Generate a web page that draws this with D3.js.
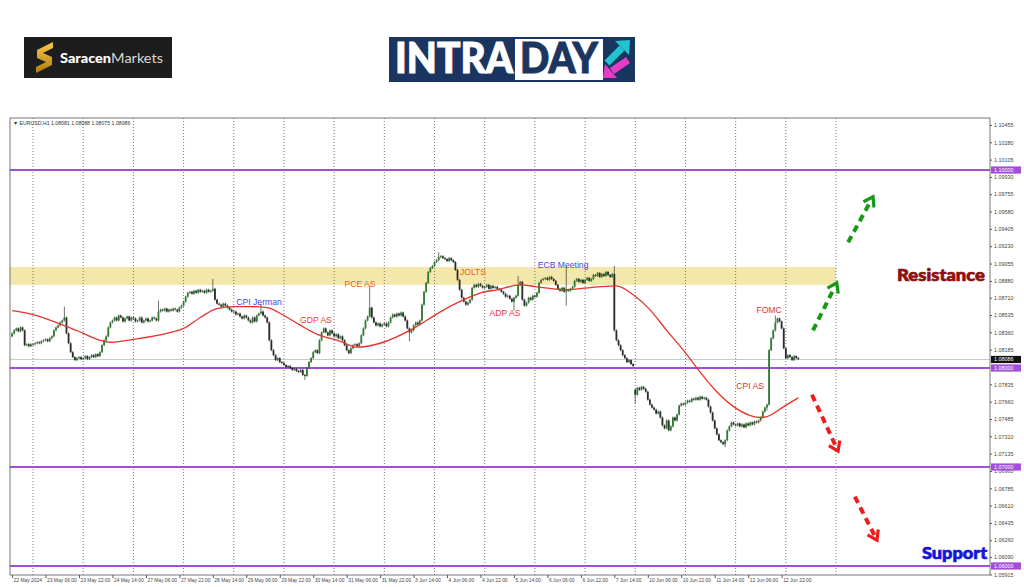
<!DOCTYPE html>
<html>
<head>
<meta charset="utf-8">
<script src="https://cdnjs.cloudflare.com/ajax/libs/d3/7.8.5/d3.min.js"></script>
<style>
	body{margin:0;background:#fff;}
	svg{display:block;font-family:"Liberation Sans",Arial,sans-serif;}
</style>
</head>
<body>
<div id="chart"></div>
<script>
// EURUSD H1 closes, one array per trading day (broker time)
const may22 = [1.0835,1.0838,1.0840,1.0837,1.0841,1.0838,1.0823,1.0824,1.0822,1.0824];
const may23 = [1.0824,1.0825,1.0826,1.0825,1.0827,1.0828,1.0829,1.0827,1.0830,1.0832,1.0838,1.0841,1.0843,1.0846,1.0848,1.0851,1.0835,1.0825,1.0816,1.0811,1.0808,1.0810,1.0811,1.0809];
const may24 = [1.0810,1.0812,1.0809,1.0811,1.0813,1.0811,1.0814,1.0812,1.0816,1.0823,1.0828,1.0832,1.0841,1.0846,1.0848,1.0851,1.0848,1.0853,1.0851,1.0847,1.0850,1.0852,1.0848,1.0851];
const may27 = [1.0850,1.0847,1.0848,1.0851,1.0846,1.0848,1.0850,1.0847,1.0848,1.0851,1.0850,1.0848,1.0857,1.0859,1.0858,1.0860,1.0857,1.0859,1.0858,1.0860,1.0859,1.0857,1.0861,1.0863];
const may28 = [1.0867,1.0872,1.0876,1.0877,1.0875,1.0878,1.0876,1.0879,1.0877,1.0878,1.0876,1.0879,1.0877,1.0878,1.0880,1.0869,1.0865,1.0864,1.0862,1.0865,1.0863,1.0861,1.0859,1.0857];
const may29 = [1.0857,1.0854,1.0855,1.0852,1.0850,1.0853,1.0851,1.0848,1.0846,1.0851,1.0847,1.0853,1.0855,1.0857,1.0853,1.0851,1.0846,1.0828,1.0818,1.0813,1.0808,1.0810,1.0806,1.0805];
const may30 = [1.0803,1.0801,1.0802,1.0800,1.0798,1.0799,1.0797,1.0796,1.0798,1.0793,1.0792,1.0800,1.0806,1.0810,1.0816,1.0818,1.0815,1.0828,1.0836,1.0840,1.0836,1.0833,1.0838,1.0835];
const may31 = [1.0832,1.0834,1.0830,1.0832,1.0828,1.0823,1.0818,1.0815,1.0820,1.0823,1.0824,1.0822,1.0825,1.0833,1.0840,1.0848,1.0852,1.0861,1.0851,1.0846,1.0843,1.0845,1.0842,1.0844];
const jun3 = [1.0845,1.0842,1.0846,1.0851,1.0854,1.0852,1.0855,1.0853,1.0856,1.0852,1.0848,1.0840,1.0836,1.0838,1.0843,1.0846,1.0844,1.0848,1.0864,1.0877,1.0886,1.0897,1.0901,1.0903];
const jun4 = [1.0907,1.0909,1.0912,1.0913,1.0911,1.0910,1.0908,1.0911,1.0909,1.0907,1.0899,1.0889,1.0879,1.0871,1.0867,1.0864,1.0866,1.0869,1.0881,1.0884,1.0882,1.0885,1.0883,1.0881];
const jun5 = [1.0882,1.0884,1.0880,1.0883,1.0881,1.0882,1.0880,1.0879,1.0877,1.0875,1.0872,1.0873,1.0870,1.0867,1.0871,1.0873,1.0884,1.0887,1.0869,1.0863,1.0866,1.0871,1.0869,1.0873];
const jun6 = [1.0872,1.0876,1.0886,1.0889,1.0890,1.0891,1.0889,1.0892,1.0890,1.0888,1.0884,1.0880,1.0878,1.0881,1.0877,1.0879,1.0878,1.0880,1.0882,1.0888,1.0890,1.0887,1.0889,1.0886];
const jun7 = [1.0889,1.0891,1.0888,1.0890,1.0894,1.0893,1.0896,1.0892,1.0895,1.0893,1.0897,1.0894,1.0892,1.0895,1.0838,1.0828,1.0823,1.0818,1.0813,1.0810,1.0806,1.0808,1.0804,1.0802];
const jun10 = [1.0773,1.0780,1.0778,1.0781,1.0779,1.0776,1.0768,1.0763,1.0760,1.0758,1.0754,1.0756,1.0750,1.0742,1.0739,1.0747,1.0737,1.0741,1.0750,1.0747,1.0753,1.0762,1.0764,1.0763];
const jun11 = [1.0765,1.0767,1.0766,1.0769,1.0768,1.0770,1.0768,1.0771,1.0769,1.0770,1.0768,1.0761,1.0755,1.0747,1.0739,1.0733,1.0727,1.0725,1.0723,1.0727,1.0737,1.0741,1.0745,1.0743];
const jun12 = [1.0742,1.0744,1.0741,1.0743,1.0740,1.0744,1.0742,1.0745,1.0743,1.0746,1.0745,1.0747,1.0750,1.0756,1.0760,1.0763,1.0818,1.0830,1.0838,1.0846,1.0850,1.0847,1.0840,1.0820];
const jun13 = [1.0810,1.0813,1.0811,1.0808,1.0812,1.0810,1.0809];

// bars whose open is not the previous close (first bar, weekend gap)
const sessionOpens = [[0, 1.0832], [298, 1.0778]];
// long wicks [bar, price]
const wickHighs = [[25,1.0861],[70,1.0867],[96,1.0889],[119,1.0864],[171,1.0882],[204,1.0916],[242,1.0892],[265,1.0902],[288,1.0902],[298,1.0778],[365,1.0852]];
const wickLows = [[140,1.0789],[190,1.0828],[240,1.0859],[265,1.0864],[298,1.0765],[341,1.0721],[361,1.0758]];

// moving average [bar, price]
const maPoints = [[0,1.0858],[10,1.0854],[26,1.0842],[34,1.0835],[42,1.0828],[47,1.0826],[58,1.0829],[74,1.0835],[82,1.0840],[90,1.0851],[98,1.0860],[106,1.0862],[114,1.0862],[122,1.0861],[130,1.0853],[138,1.0843],[146,1.0834],[157,1.0827],[165,1.0821],[176,1.0825],[192,1.0840],[205,1.0857],[216,1.0869],[224,1.0876],[232,1.0879],[243,1.0884],[251,1.0882],[264,1.0879],[280,1.0882],[289,1.0883],[297,1.0874],[305,1.0859],[313,1.0838],[321,1.0818],[329,1.0796],[337,1.0776],[345,1.0761],[353,1.0752],[358,1.0750],[361,1.0751],[369,1.0761],[376,1.0770]];

const supportResistance = [1.10000, 1.08000, 1.07000, 1.06000];
const bidPrice = 1.08086;
const resistanceZone = [1.0884, 1.0902];

const yTicks = [1.10455,1.10280,1.10105,1.09930,1.09755,1.09580,1.09405,1.09230,1.09055,1.08880,1.08710,1.08535,1.08360,1.08185,1.07835,1.07660,1.07485,1.07310,1.07135,1.06960,1.06785,1.06610,1.06435,1.06260,1.06090,1.05915];
const xTickLabels = ["22 May 2024","23 May 06:00","23 May 22:00","24 May 14:00","27 May 06:00","27 May 22:00","28 May 14:00","29 May 06:00","29 May 22:00","30 May 14:00","31 May 06:00","31 May 22:00","3 Jun 14:00","4 Jun 06:00","4 Jun 22:00","5 Jun 14:00","6 Jun 06:00","6 Jun 22:00","7 Jun 14:00","10 Jun 06:00","10 Jun 22:00","11 Jun 14:00","12 Jun 06:00","12 Jun 22:00"];

const eventLabels = ["CPI Jerman","GDP AS","PCE AS","JOLTS","ADP AS","ECB Meeting","FOMC","CPI AS"];
const eventBars = [118.1, 145.3, 166.4, 220.4, 235.7, 263.5, 362, 352.9];
const eventPrices = [1.0867, 1.0848, 1.0885, 1.0897, 1.0856, 1.0904, 1.0859, 1.0782];

// projected moves [fromBar, fromPrice, toBar, toPrice]
const upArrows = [[383, 1.0838, 394.4, 1.0886], [399.8, 1.0927, 411.7, 1.0973]];
const downArrows = [[382.5, 1.0773, 395, 1.0716], [403, 1.0670, 413.6, 1.0626]];

const days = [may22, may23, may24, may27, may28, may29, may30, may31, jun3, jun4, jun5, jun6, jun7, jun10, jun11, jun12, jun13];

// ---------------------------------------------------------------

let closes = [].concat(...days);
let dayStarts = [];
let n = 0;
days.forEach((d, k) => { if (k > 0) dayStarts.push(n); n += d.length; });
dayStarts.push(dayStarts[dayStarts.length - 1] + 24);

let openMap = new Map(sessionOpens);
let hiMap = new Map(wickHighs);
let loMap = new Map(wickLows);

let candles = closes.map((c, i) => {
	let o = openMap.has(i) ? openMap.get(i) : closes[i - 1];
	return {
		i: i, o: o, c: c,
		h: Math.max(o, c, hiMap.get(i) || 0),
		l: Math.min(o, c, loMap.get(i) || 9)
	};
});

const W = 1024, H = 587;
const frame = {left: 10, right: 990, top: 118, bottom: 575};

const x = d3.scaleLinear().domain([0, 394]).range([12.1, 836]);
const y = d3.scaleLinear().domain([1.10, 1.06]).range([170, 566]);

const svg = d3.select("#chart").append("svg")
	.attr("width", W)
	.attr("height", H);

svg.append("rect").attr("width", W).attr("height", H).attr("fill", "#fff");

svg.append("clipPath").attr("id", "plot")
	.append("rect")
	.attr("x", frame.left).attr("y", frame.top)
	.attr("width", frame.right - frame.left).attr("height", frame.bottom - frame.top);

let plot = svg.append("g").attr("clip-path", "url(#plot)");

// resistance zone
plot.append("rect")
	.attr("x", frame.left)
	.attr("y", y(resistanceZone[1]))
	.attr("width", x(394) - frame.left)
	.attr("height", y(resistanceZone[0]) - y(resistanceZone[1]))
	.attr("fill", "#f3e8a9");

// day separators
plot.selectAll(".vgrid").data(dayStarts).enter().append("line")
	.attr("x1", d => x(d)).attr("x2", d => x(d))
	.attr("y1", frame.top).attr("y2", frame.bottom)
	.attr("stroke", "#666").attr("stroke-width", 0.9)
	.attr("stroke-dasharray", "1,2");

// bid line
plot.append("line")
	.attr("x1", frame.left).attr("x2", frame.right)
	.attr("y1", y(bidPrice)).attr("y2", y(bidPrice))
	.attr("stroke", "#c9c9c9").attr("stroke-width", 1);

// key levels
plot.selectAll(".level").data(supportResistance).enter().append("line")
	.attr("x1", frame.left).attr("x2", frame.right)
	.attr("y1", d => y(d)).attr("y2", d => y(d))
	.attr("stroke", "#a24ed8").attr("stroke-width", 1.8);

// candles
let cg = plot.append("g");
cg.selectAll(".wick").data(candles).enter().append("line")
	.attr("x1", d => x(d.i)).attr("x2", d => x(d.i))
	.attr("y1", d => y(d.h) - 1).attr("y2", d => y(d.l) + 1)
	.attr("stroke", "#333").attr("stroke-width", 0.7);

cg.selectAll(".body").data(candles).enter().append("rect")
	.attr("x", d => x(d.i) - 0.9)
	.attr("width", 1.8)
	.attr("y", d => y(Math.max(d.o, d.c)))
	.attr("height", d => Math.max(1, Math.abs(y(d.o) - y(d.c))))
	.attr("fill", d => d.c >= d.o ? "#2f7d2f" : "#2b2b2b");

// moving average
let maLine = d3.line()
	.x(d => x(d[0]))
	.y(d => y(d[1]))
	.curve(d3.curveMonotoneX);

plot.append("path")
	.datum(maPoints)
	.attr("d", maLine)
	.attr("fill", "none")
	.attr("stroke", "#e5332a")
	.attr("stroke-width", 1.3);

// frame
svg.append("rect")
	.attr("x", frame.left).attr("y", frame.top)
	.attr("width", frame.right - frame.left).attr("height", frame.bottom - frame.top)
	.attr("fill", "none").attr("stroke", "#555").attr("stroke-width", 0.8);

// axes
let yAxis = d3.axisRight(y)
	.tickValues(yTicks)
	.tickFormat(d3.format(".5f"))
	.tickSize(2)
	.tickPadding(2);

let yg = svg.append("g")
	.attr("transform", "translate(" + frame.right + ",0)")
	.call(yAxis);
yg.select(".domain").remove();
yg.selectAll("text").attr("font-size", 5.4).attr("fill", "#444").attr("font-family", "Liberation Sans");
yg.selectAll("line").attr("stroke", "#555");

let xAxis = d3.axisBottom(x)
	.tickValues(xTickLabels.map((d, k) => k * 16))
	.tickFormat((d, k) => xTickLabels[k])
	.tickSize(3)
	.tickPadding(1);

let xg = svg.append("g")
	.attr("transform", "translate(0," + frame.bottom + ")")
	.call(xAxis);
xg.select(".domain").remove();
xg.selectAll("text").attr("font-size", 4.9).attr("fill", "#444")
	.attr("text-anchor", "start").attr("x", 1).attr("font-family", "Liberation Sans");
xg.selectAll("line").attr("stroke", "#555");

// price boxes on axis
function priceBox(v, fill){
	let g = svg.append("g").attr("transform", "translate(" + (frame.right + 1) + "," + y(v) + ")");
	g.append("rect").attr("x", 0).attr("y", -3.6).attr("width", 30).attr("height", 7.2).attr("fill", fill);
	g.append("text").attr("x", 3).attr("y", 2).attr("font-size", 5.4).attr("fill", "#fff")
		.text(d3.format(".5f")(v));
}
supportResistance.forEach(v => priceBox(v, "#a24ed8"));
priceBox(bidPrice, "#111");

// header
svg.append("text")
	.attr("x", 13).attr("y", 125)
	.attr("font-size", 5.2).attr("fill", "#333")
	.text("\u25BC EURUSD,H1  1.08081 1.08088 1.08075 1.08086");

// event labels
const eventColors = ["#3f3ff0","#e8403a","#f05a28","#f05a28","#e8364a","#3f3ff0","#e2332c","#e2332c"];
svg.selectAll(".event").data(eventLabels).enter().append("text")
	.attr("x", (d, k) => x(eventBars[k]))
	.attr("y", (d, k) => y(eventPrices[k]) + 3)
	.attr("text-anchor", "middle")
	.attr("font-size", 8.6)
	.attr("fill", (d, k) => eventColors[k])
	.text(d => d);

// projected move arrows
function dashedArrow(a, color){
	let x1 = x(a[0]), y1 = y(a[1]), x2 = x(a[2]), y2 = y(a[3]);
	let ang = Math.atan2(y2 - y1, x2 - x1);
	let len = Math.hypot(x2 - x1, y2 - y1);
	let g = svg.append("g").attr("transform", "translate(" + x1 + "," + y1 + ") rotate(" + (ang * 180 / Math.PI) + ")");
	g.append("line").attr("x1", 0).attr("x2", len - 5).attr("y1", 0).attr("y2", 0)
		.attr("stroke", color).attr("stroke-width", 4).attr("stroke-dasharray", "7,5");
	g.append("path")
		.attr("d", "M" + (len - 9) + ",-6 L" + len + ",0 L" + (len - 9) + ",6")
		.attr("fill", "none").attr("stroke", color).attr("stroke-width", 3.2)
		.attr("stroke-linejoin", "miter");
}
upArrows.forEach(a => dashedArrow(a, "#169a16"));
downArrows.forEach(a => dashedArrow(a, "#ee1c1c"));

svg.append("text")
	.attr("x", 897).attr("y", y(1.0894) + 6)
	.attr("font-size", 17).attr("font-weight", 900).attr("font-family", "Lato, Liberation Sans")
	.attr("textLength", 88).attr("lengthAdjust", "spacingAndGlyphs")
	.attr("fill", "#8f1010").attr("stroke", "#8f1010").attr("stroke-width", 0.7)
	.text("Resistance");

svg.append("text")
	.attr("x", 922).attr("y", y(1.0613) + 6)
	.attr("font-size", 17).attr("font-weight", 900).attr("font-family", "Lato, Liberation Sans")
	.attr("textLength", 65).attr("lengthAdjust", "spacingAndGlyphs")
	.attr("fill", "#1414e0").attr("stroke", "#1414e0").attr("stroke-width", 0.7)
	.text("Support");

// logos
let logo = svg.append("g");
logo.append("rect").attr("x", 24).attr("y", 37).attr("width", 148).attr("height", 41).attr("fill", "#1d1d1d");
let grad = svg.append("defs").append("linearGradient").attr("id", "gold")
	.attr("x1", 0).attr("y1", 0).attr("x2", 0).attr("y2", 1);
grad.append("stop").attr("offset", 0).attr("stop-color", "#f7c948");
grad.append("stop").attr("offset", 1).attr("stop-color", "#b07d12");
logo.append("path")
	.attr("d", "M53,42 L37,50 L37,58 L46,62 L36,67 L36,73 L52,65 L52,57 L43,53 L53,48 Z")
	.attr("fill", "url(#gold)");
let lt = logo.append("text").attr("x", 60).attr("y", 63)
	.attr("font-size", 13.5).attr("font-family", "Lato, Liberation Sans")
	.attr("textLength", 103).attr("lengthAdjust", "spacingAndGlyphs");
lt.append("tspan").attr("font-weight", 900).attr("fill", "#fff").text("Saracen");
lt.append("tspan").attr("fill", "#d8d8d8").text("Markets");

let brand = svg.append("g");
brand.append("rect").attr("x", 389).attr("y", 37).attr("width", 246).attr("height", 45).attr("fill", "#1b3561");
brand.append("text").attr("x", 395).attr("y", 73)
	.attr("font-size", 42).attr("font-weight", 900).attr("font-family", "Lato, Liberation Sans")
	.attr("fill", "#fff").attr("stroke", "#fff").attr("stroke-width", 1)
	.attr("textLength", 118).attr("lengthAdjust", "spacingAndGlyphs")
	.text("INTRA");
brand.append("rect").attr("x", 515).attr("y", 39).attr("width", 88).attr("height", 41).attr("fill", "#fff");
brand.append("text").attr("x", 520).attr("y", 73)
	.attr("font-size", 42).attr("font-weight", 900).attr("font-family", "Lato, Liberation Sans")
	.attr("fill", "#1b3561").attr("stroke", "#1b3561").attr("stroke-width", 1)
	.attr("textLength", 78).attr("lengthAdjust", "spacingAndGlyphs")
	.text("DAY");
brand.append("line").attr("x1", 607).attr("y1", 63).attr("x2", 622).attr("y2", 48)
	.attr("stroke", "#1fc6cf").attr("stroke-width", 7);
brand.append("path").attr("d", "M615,41 L630,40 L629,55 Z").attr("fill", "#1fc6cf");
brand.append("line").attr("x1", 628).attr("y1", 60).attr("x2", 612).attr("y2", 71)
	.attr("stroke", "#e63cc8").attr("stroke-width", 7);
brand.append("path").attr("d", "M605,64 L603,78 L617,78 Z").attr("fill", "#e63cc8");
</script>
</body>
</html>
